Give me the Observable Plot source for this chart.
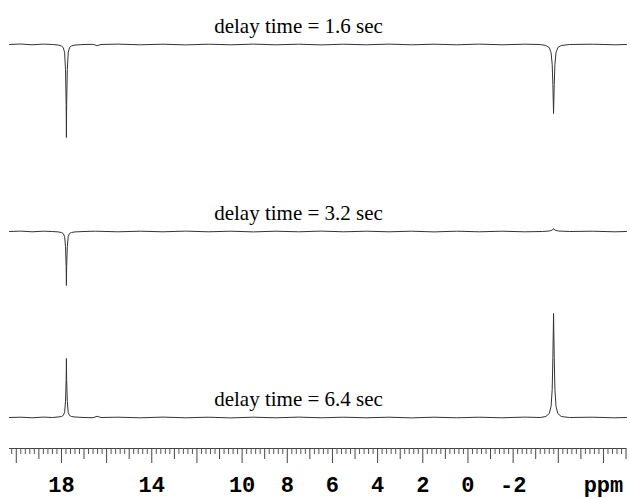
<!DOCTYPE html>
<html>
<head>
<meta charset="utf-8">
<script src="https://cdn.jsdelivr.net/npm/d3@7"></script>
<script src="https://cdn.jsdelivr.net/npm/@observablehq/plot@0.6"></script>
<style>
  html, body { margin: 0; padding: 0; background: #fff; }
  #chart { width: 630px; height: 499px; }
</style>
</head>
<body>
<div id="chart"></div>
<script>
// ---- data ----
const delayTimes = ["1.6", "3.2", "6.4"];          // seconds, top to bottom
const traceOffsets = [404, 217, 31];               // vertical stacking offset of each spectrum (intensity units)

// spectrum 1 : delay 1.6 s (inverted peaks)
const ppm16 = [20.3, 19.8, 19.3, 18.8, 18.4, 18.15, 18.0, 17.92, 17.86, 17.82, 17.79, 17.78, 17.77, 17.74, 17.70, 17.64, 17.56, 17.4, 17.0, 16.6, 16.42, 16.25, 15.5, 14.5, 13.5, 12.5, 11.5, 10.5, 9.5, 8.5, 7.5, 6.5, 5.5, 4.5, 3.5, 2.5, 1.5, 0.5, -0.5, -1.5, -2.5, -3.2, -3.45, -3.6, -3.68, -3.73, -3.76, -3.79, -3.82, -3.85, -3.90, -3.98, -4.13, -4.5, -5.5, -6.5, -7.02];
const int16 = [0, 0.5, -0.3, 0.4, 0, -0.5, -1.5, -3, -8, -25, -60, -93, -60, -25, -8, -3, -1.5, -0.5, 0, 0.2, -1.2, 0, 0.4, -0.3, 0.3, -0.4, 0.3, -0.3, 0.4, -0.3, 0.3, -0.4, 0.3, -0.3, 0.4, -0.3, 0.3, -0.3, 0.4, -0.3, 0.3, 0, -1, -3, -8, -20, -40, -69, -40, -20, -8, -3, -1, 0, 0.3, -0.3, 0];

// spectrum 2 : delay 3.2 s
const ppm32 = [20.3, 19.8, 19.3, 18.8, 18.4, 18.15, 18.0, 17.92, 17.86, 17.82, 17.79, 17.78, 17.77, 17.74, 17.70, 17.64, 17.56, 17.4, 17.0, 16.5, 15.5, 14.5, 13.5, 12.5, 11.5, 10.5, 9.5, 8.5, 7.5, 6.5, 5.5, 4.5, 3.5, 2.5, 1.5, 0.5, -0.5, -1.5, -2.5, -3.3, -3.6, -3.74, -3.79, -3.84, -4.0, -4.5, -5.5, -6.5, -7.02];
const int32 = [0, 0.4, -0.3, 0.3, 0, -0.4, -1, -2, -5, -15, -35, -54, -35, -15, -5, -2, -1, -0.4, 0, 0.3, -0.3, 0.3, -0.3, 0.4, -0.3, 0.3, -0.4, 0.3, -0.3, 0.4, -0.3, 0.3, -0.3, 0.3, -0.4, 0.3, -0.3, 0.3, -0.3, 0, 0.5, 1.5, 3, 1.5, 0.5, 0, 0.3, -0.3, 0];

// spectrum 3 : delay 6.4 s (positive peaks)
const ppm64 = [20.3, 19.8, 19.3, 18.8, 18.4, 18.15, 18.0, 17.92, 17.86, 17.82, 17.79, 17.78, 17.77, 17.74, 17.70, 17.64, 17.56, 17.4, 17.0, 16.6, 16.42, 16.25, 15.5, 14.5, 13.5, 12.5, 11.5, 10.5, 9.5, 8.5, 7.5, 6.5, 5.5, 4.5, 3.5, 2.5, 1.5, 0.5, -0.5, -1.5, -2.5, -3.2, -3.45, -3.6, -3.68, -3.73, -3.76, -3.79, -3.82, -3.85, -3.90, -3.98, -4.13, -4.5, -5.5, -6.5, -7.02];
const int64 = [0, 0.3, -0.3, 0.4, 0, 0.5, 1, 2, 5, 16, 38, 59, 38, 16, 5, 2, 1, 0.5, 0, -0.2, 1.2, 0, 0.3, -0.3, 0.4, -0.3, 0.3, -0.4, 0.3, -0.3, 0.4, -0.3, 0.3, -0.3, 0.3, -0.4, 0.3, -0.3, 0.3, -0.3, 0.4, 0, 1, 4, 11, 28, 60, 104, 60, 28, 11, 4, 1, 0, 0.3, -0.3, 0];

// axis tick labels
const labelTicks = [18, 14, 10, 8, 6, 4, 2, 0, -2, -6];
const labelTexts = ["18", "14", "10", "8", "6", "4", "2", "0", "-2", "ppm"];

// ---- build table ----
const spectra = [[ppm16, int16], [ppm32, int32], [ppm64, int64]];
const rows = [];
spectra.forEach(([p, v], i) => p.forEach((x, j) => rows.push({trace: i, ppm: x, v: v[j]})));
const labels = delayTimes.map((t, i) => ({trace: i, text: `delay time = ${t} sec`}));

// ruler tick positions
const all = d3.range(-35, 102).map(i => i / 5);       // every 0.2 ppm
const minorTicks = all.filter(d => Math.abs(d - Math.round(d)) > 1e-6);
const oddTicks = d3.range(-7, 21).filter(d => Math.abs(d % 2) === 1);
const evenTicks = d3.range(-6, 21).filter(d => d % 2 === 0);

const tickOpts = {label: null, fill: "none", tickFormat: () => ""};

const chart = Plot.plot({
  width: 630,
  height: 499,
  marginLeft: 9,
  marginRight: 4,
  marginTop: 0,
  marginBottom: 51,
  x: {domain: [20.3, -7.02], axis: null, label: null},
  y: {domain: [0, 448], axis: null, label: null},
  marks: [
    Plot.ruleY([0], {stroke: "#444", strokeWidth: 1}),
    Plot.axisX(minorTicks, {...tickOpts, tickSize: 6, stroke: "#555"}),
    Plot.axisX(oddTicks, {...tickOpts, tickSize: 11, stroke: "#444"}),
    Plot.axisX(evenTicks, {...tickOpts, tickSize: 15, stroke: "#444"}),
    Plot.text(labelTicks, {
      x: d => d, frameAnchor: "bottom", dy: 36, lineAnchor: "middle",
      text: (d, i) => labelTexts[i],
      fontFamily: "Liberation Mono", fontWeight: "bold", fontSize: 22, fill: "#000"
    }),
    Plot.line(rows, {
      x: "ppm", y: d => d.v + traceOffsets[d.trace], z: "trace",
      stroke: "#333", strokeWidth: 1, curve: "linear"
    }),
    Plot.text(labels, {
      x: () => 7.5, y: d => traceOffsets[d.trace],
      dy: -12, lineAnchor: "bottom", text: "text",
      fontFamily: "Liberation Serif", fontSize: 21, fill: "#000"
    })
  ]
});
document.getElementById("chart").appendChild(chart);
</script>
</body>
</html>
